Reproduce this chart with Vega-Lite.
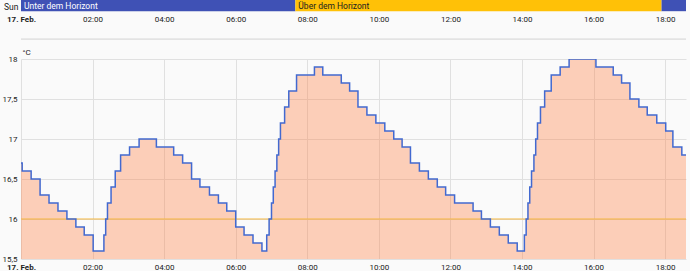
{
  "$schema": "https://vega.github.io/schema/vega-lite/v6.json",
  "background": "#fafafa",
  "padding": {"left": 1, "top": 0, "right": 4, "bottom": 0},
  "config": {
    "font": "Roboto",
    "view": {"stroke": null},
    "axis": {"labelFont": "Roboto", "labelFontSize": 8, "labelColor": "#212121", "gridColor": "#e0e0e0", "domain": false, "ticks": false, "titleFont": "Roboto", "labelOverlap": false}
  },
  "datasets": {
    "sun": [
      {"state": "Unter dem Horizont", "start": "2025-02-17T00:00:00Z", "end": "2025-02-17T07:40:00Z"},
      {"state": "Über dem Horizont", "start": "2025-02-17T07:40:00Z", "end": "2025-02-17T17:54:00Z"},
      {"state": "Unter dem Horizont", "start": "2025-02-17T17:54:00Z", "end": "2025-02-17T18:35:00Z"}
    ],
    "target": [
      {"t": "2025-02-17T00:00:00Z", "v": 16.0},
      {"t": "2025-02-17T18:35:00Z", "v": 16.0}
    ],
    "temp": [
      {"t": "2025-02-17T00:00:00Z", "v": 16.7},
      {"t": "2025-02-17T00:02:00Z", "v": 16.6},
      {"t": "2025-02-17T00:17:00Z", "v": 16.5},
      {"t": "2025-02-17T00:32:00Z", "v": 16.3},
      {"t": "2025-02-17T00:47:00Z", "v": 16.2},
      {"t": "2025-02-17T01:02:00Z", "v": 16.1},
      {"t": "2025-02-17T01:17:00Z", "v": 16.0},
      {"t": "2025-02-17T01:32:00Z", "v": 15.9},
      {"t": "2025-02-17T01:46:00Z", "v": 15.8},
      {"t": "2025-02-17T02:01:00Z", "v": 15.6},
      {"t": "2025-02-17T02:19:00Z", "v": 15.8},
      {"t": "2025-02-17T02:22:00Z", "v": 16.0},
      {"t": "2025-02-17T02:25:00Z", "v": 16.2},
      {"t": "2025-02-17T02:31:00Z", "v": 16.4},
      {"t": "2025-02-17T02:38:00Z", "v": 16.6},
      {"t": "2025-02-17T02:47:00Z", "v": 16.8},
      {"t": "2025-02-17T03:02:00Z", "v": 16.9},
      {"t": "2025-02-17T03:18:00Z", "v": 17.0},
      {"t": "2025-02-17T03:47:00Z", "v": 16.9},
      {"t": "2025-02-17T04:16:00Z", "v": 16.8},
      {"t": "2025-02-17T04:31:00Z", "v": 16.7},
      {"t": "2025-02-17T04:46:00Z", "v": 16.5},
      {"t": "2025-02-17T05:00:00Z", "v": 16.4},
      {"t": "2025-02-17T05:16:00Z", "v": 16.3},
      {"t": "2025-02-17T05:31:00Z", "v": 16.2},
      {"t": "2025-02-17T05:45:00Z", "v": 16.1},
      {"t": "2025-02-17T06:00:00Z", "v": 15.9},
      {"t": "2025-02-17T06:14:00Z", "v": 15.8},
      {"t": "2025-02-17T06:29:00Z", "v": 15.7},
      {"t": "2025-02-17T06:44:00Z", "v": 15.6},
      {"t": "2025-02-17T06:52:00Z", "v": 15.8},
      {"t": "2025-02-17T06:56:00Z", "v": 16.0},
      {"t": "2025-02-17T07:00:00Z", "v": 16.2},
      {"t": "2025-02-17T07:03:00Z", "v": 16.4},
      {"t": "2025-02-17T07:06:00Z", "v": 16.6},
      {"t": "2025-02-17T07:09:00Z", "v": 16.8},
      {"t": "2025-02-17T07:12:00Z", "v": 17.0},
      {"t": "2025-02-17T07:15:00Z", "v": 17.2},
      {"t": "2025-02-17T07:22:00Z", "v": 17.4},
      {"t": "2025-02-17T07:29:00Z", "v": 17.6},
      {"t": "2025-02-17T07:42:00Z", "v": 17.8},
      {"t": "2025-02-17T08:12:00Z", "v": 17.9},
      {"t": "2025-02-17T08:26:00Z", "v": 17.8},
      {"t": "2025-02-17T08:57:00Z", "v": 17.7},
      {"t": "2025-02-17T09:11:00Z", "v": 17.6},
      {"t": "2025-02-17T09:25:00Z", "v": 17.4},
      {"t": "2025-02-17T09:40:00Z", "v": 17.3},
      {"t": "2025-02-17T09:55:00Z", "v": 17.2},
      {"t": "2025-02-17T10:10:00Z", "v": 17.1},
      {"t": "2025-02-17T10:25:00Z", "v": 17.0},
      {"t": "2025-02-17T10:39:00Z", "v": 16.9},
      {"t": "2025-02-17T10:53:00Z", "v": 16.7},
      {"t": "2025-02-17T11:08:00Z", "v": 16.6},
      {"t": "2025-02-17T11:23:00Z", "v": 16.5},
      {"t": "2025-02-17T11:38:00Z", "v": 16.4},
      {"t": "2025-02-17T11:52:00Z", "v": 16.3},
      {"t": "2025-02-17T12:07:00Z", "v": 16.2},
      {"t": "2025-02-17T12:38:00Z", "v": 16.1},
      {"t": "2025-02-17T12:52:00Z", "v": 16.0},
      {"t": "2025-02-17T13:07:00Z", "v": 15.9},
      {"t": "2025-02-17T13:22:00Z", "v": 15.8},
      {"t": "2025-02-17T13:37:00Z", "v": 15.7},
      {"t": "2025-02-17T13:52:00Z", "v": 15.6},
      {"t": "2025-02-17T14:04:00Z", "v": 15.8},
      {"t": "2025-02-17T14:07:00Z", "v": 16.0},
      {"t": "2025-02-17T14:10:00Z", "v": 16.2},
      {"t": "2025-02-17T14:13:00Z", "v": 16.4},
      {"t": "2025-02-17T14:16:00Z", "v": 16.6},
      {"t": "2025-02-17T14:20:00Z", "v": 16.8},
      {"t": "2025-02-17T14:23:00Z", "v": 17.0},
      {"t": "2025-02-17T14:26:00Z", "v": 17.2},
      {"t": "2025-02-17T14:31:00Z", "v": 17.4},
      {"t": "2025-02-17T14:38:00Z", "v": 17.6},
      {"t": "2025-02-17T14:49:00Z", "v": 17.8},
      {"t": "2025-02-17T15:04:00Z", "v": 17.9},
      {"t": "2025-02-17T15:19:00Z", "v": 18.0},
      {"t": "2025-02-17T16:04:00Z", "v": 17.9},
      {"t": "2025-02-17T16:33:00Z", "v": 17.8},
      {"t": "2025-02-17T16:47:00Z", "v": 17.7},
      {"t": "2025-02-17T17:01:00Z", "v": 17.5},
      {"t": "2025-02-17T17:16:00Z", "v": 17.4},
      {"t": "2025-02-17T17:30:00Z", "v": 17.3},
      {"t": "2025-02-17T17:46:00Z", "v": 17.2},
      {"t": "2025-02-17T18:01:00Z", "v": 17.1},
      {"t": "2025-02-17T18:13:00Z", "v": 16.9},
      {"t": "2025-02-17T18:28:00Z", "v": 16.8},
      {"t": "2025-02-17T18:35:00Z", "v": 16.8}
    ]
  },
  "bounds": "flush",
  "spacing": 17,
  "vconcat": [
    {
      "width": 665,
      "height": 42,
      "data": {"name": "sun"},
      "layer": [
        {
          "mark": {"type": "rule", "color": "#e3e3e3", "strokeWidth": 1},
          "encoding": {
            "y": {"datum": 42, "type": "quantitative", "scale": {"domain": [0, 42], "reverse": true},
              "axis": {"title": "Sun", "labels": false, "grid": false, "titleAngle": 0, "titleAlign": "right", "titleBaseline": "middle", "titleX": -3, "titleY": 6, "titleFontSize": 8.5, "titleFontWeight": "normal", "titleColor": "#212121"}}
          }
        },
        {
          "mark": {"type": "bar"},
          "encoding": {
            "x": {
              "field": "start", "type": "temporal",
              "scale": {"type": "utc", "domain": [1739750400000, 1739817300000]},
              "axis": {
                "orient": "bottom", "offset": -27, "grid": false, "title": null,
                "values": [1739750400000, 1739757600000, 1739764800000, 1739772000000, 1739779200000, 1739786400000, 1739793600000, 1739800800000, 1739808000000, 1739815200000],
                "tickCount": 20,
                "labelPadding": 0, "labelFlush": false, "labelOverlap": false,
                "labelExpr": "utchours(datum.value) === 0 ? '17. Feb.' : (utchours(datum.value) < 10 ? '0' : '') + utchours(datum.value) + ':00'",
                "labelFontWeight": {"condition": {"test": "utchours(datum.value) === 0", "value": "bold"}, "value": "normal"}
              }
            },
            "x2": {"field": "end"},
            "y": {"datum": 0, "type": "quantitative"},
            "y2": {"datum": 12},
            "color": {"field": "state", "type": "nominal", "scale": {"domain": ["Unter dem Horizont", "Über dem Horizont"], "range": ["#3f51b5", "#ffc107"]}, "legend": null}
          }
        },
        {
          "transform": [{"filter": "toDate(datum.end) - toDate(datum.start) > 3600000"}],
          "mark": {"type": "text", "align": "left", "baseline": "middle", "dx": 3, "fontSize": 8.5, "font": "Roboto"},
          "encoding": {
            "x": {"field": "start", "type": "temporal"},
            "y": {"datum": 6, "type": "quantitative"},
            "text": {"field": "state"},
            "color": {"condition": {"test": "datum.state === 'Über dem Horizont'", "value": "#212121"}, "value": "#ffffff"}
          }
        }
      ]
    },
    {
      "width": 665,
      "height": 200,
      "encoding": {
        "x": {
          "field": "t", "type": "temporal",
          "scale": {"type": "utc", "domain": [1739750400000, 1739817300000]},
          "axis": {
            "grid": true, "title": null,
            "values": [1739750400000, 1739757600000, 1739764800000, 1739772000000, 1739779200000, 1739786400000, 1739793600000, 1739800800000, 1739808000000, 1739815200000],
            "tickCount": 20,
            "labelPadding": 4, "labelFlush": false, "labelOverlap": false,
            "labelExpr": "utchours(datum.value) === 0 ? '17. Feb.' : (utchours(datum.value) < 10 ? '0' : '') + utchours(datum.value) + ':00'",
            "labelFontWeight": {"condition": {"test": "utchours(datum.value) === 0", "value": "bold"}, "value": "normal"}
          }
        }
      },
      "layer": [
        {
          "data": {"name": "temp"},
          "mark": {"type": "area", "interpolate": "step-after", "color": "#ff7a3c", "opacity": 0.35, "clip": true},
          "encoding": {
            "y": {"field": "v", "type": "quantitative",
              "scale": {"domain": [15.5, 18], "zero": false, "nice": false},
              "axis": {"values": [15.5, 16, 16.5, 17, 17.5, 18], "tickCount": 10, "grid": true, "labelPadding": 4, "labelOverlap": false,
                "labelExpr": "replace(toString(datum.value), '.', ',')",
                "title": "°C", "titleAngle": 0, "titleAlign": "left", "titleBaseline": "alphabetic", "titleX": 1, "titleY": -5,
                "titleFontSize": 8, "titleFontWeight": "normal", "titleColor": "#212121"}},
            "y2": {"datum": 15.5}
          }
        },
        {
          "data": {"name": "target"},
          "mark": {"type": "line", "color": "#f4b63f", "strokeWidth": 1},
          "encoding": {"y": {"field": "v", "type": "quantitative"}}
        },
        {
          "data": {"name": "temp"},
          "mark": {"type": "line", "interpolate": "step-after", "color": "#4269d0", "strokeWidth": 1.5, "clip": true},
          "encoding": {"y": {"field": "v", "type": "quantitative"}}
        }
      ]
    }
  ]
}
